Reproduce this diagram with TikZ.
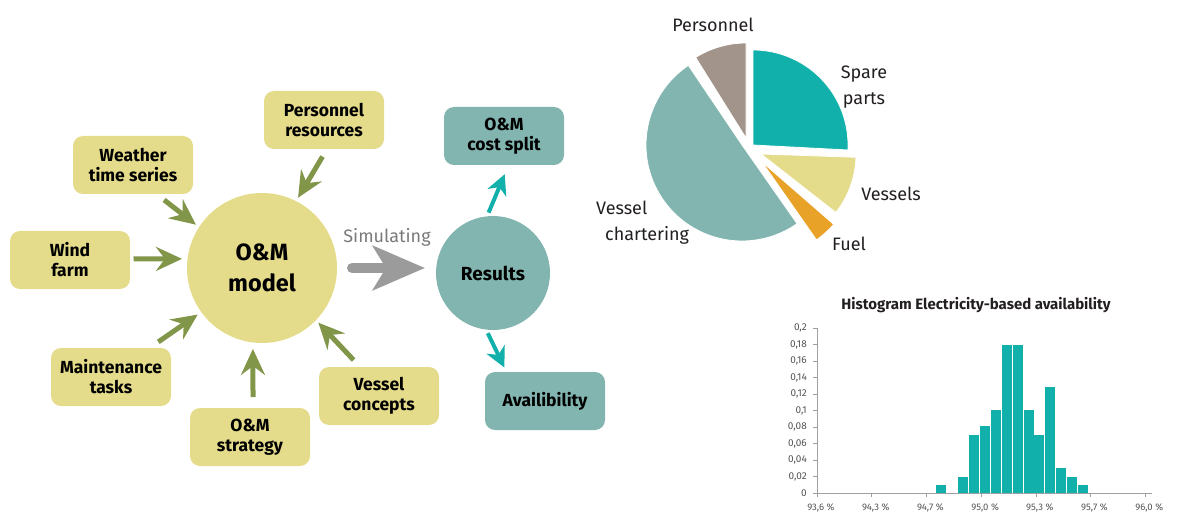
\documentclass[tikz,border=0pt]{standalone}
\usepackage{fontspec}
\setmainfont{Fira Sans}
\usetikzlibrary{arrows.meta,calc}
\definecolor{boxyellow}{HTML}{E4DC8A}
\definecolor{resteal}{HTML}{82B5B0}
\definecolor{brightteal}{HTML}{11B0AA}
\definecolor{arrowgreen}{HTML}{82964A}
\definecolor{simgrey}{HTML}{9B9B9B}
\definecolor{simtext}{HTML}{7A7A7A}
\definecolor{persgrey}{HTML}{A2948A}
\definecolor{fuelorange}{HTML}{E8A228}
\definecolor{labeldark}{HTML}{231F20}
\definecolor{axisgrey}{HTML}{A0A0A0}
\definecolor{ticktext}{HTML}{555555}
\begin{document}
\begin{tikzpicture}[x=1pt,y=1pt,
  inbox/.style={fill=boxyellow, rounded corners=10pt, minimum width=120pt, minimum height=58pt,
    align=center, inner sep=0pt, outer sep=0pt, font=\bfseries\fontsize{17.5}{20}\selectfont},
  outbox/.style={inbox, fill=resteal},
  bigcircle/.style={circle, inner sep=0pt, outer sep=0pt, align=center},
  garrow/.style={draw=arrowgreen, line width=5pt, -{Stealth[length=26pt, width=24pt, inset=9pt]}},
  tarrow/.style={draw=brightteal, line width=4pt, -{Stealth[length=20pt, width=20pt, inset=6pt]}},
  sarrow/.style={draw=simgrey, line width=10pt, line cap=round, -{Stealth[length=52pt, width=44pt, inset=13pt]}},
  pielabel/.style={font=\fontsize{18}{26}\selectfont, text=labeldark, inner sep=0pt},
  slice/.style={draw=white, line width=0.8pt},
  ytick/.style={font=\fontsize{10}{10}\selectfont, text=ticktext, anchor=east, inner sep=0pt},
  xtick/.style={font=\fontsize{9.5}{10}\selectfont, text=ticktext, inner sep=0pt}
]
\useasboundingbox (0,0) rectangle (1177,520);

% ---------- input boxes ----------
\node[inbox] (weather) at (133,355) {Weather\\time series};
\node[inbox] (personnel) at (324,400) {Personnel\\resources};
\node[inbox] (wind) at (70,260) {Wind\\farm};
\node[inbox] (maint) at (111,143) {Maintenance\\tasks};
\node[inbox] (strategy) at (250,83) {O\&M\\strategy};
\node[inbox] (vessel) at (379,124) {Vessel\\concepts};

\node[bigcircle, fill=boxyellow, minimum size=150pt, font=\bfseries\fontsize{23.5}{31}\selectfont] (model) at (262,252) {O\&M\\model};
\node[bigcircle, fill=resteal, minimum size=114pt, font=\bfseries\fontsize{19}{20}\selectfont] (results) at (493,247) {Results};

\node[outbox] (cost) at (504,384) {O\&M\\cost split};
\node[outbox] (avail) at (545,119) {Availibility};

% ---------- arrows ----------
\draw[garrow, shorten <=9.7pt, shorten >=4pt] (weather.-51.6) -- (model.147);
\draw[garrow, shorten <=8.8pt, shorten >=4pt] (personnel.-84.8) -- (model.63.7);
\draw[garrow, shorten <=3.5pt, shorten >=5.6pt] (wind.1.9) -- (model.173);
\draw[garrow, shorten <=10.7pt, shorten >=4.4pt] (maint.37.3) -- (model.216.3);
\draw[garrow, shorten <=11pt, shorten >=6.5pt] (strategy.84) -- (model.263.7);
\draw[garrow, shorten <=9.6pt, shorten >=3.5pt] (vessel.123.8) -- (model.-44.5);

\draw[sarrow, shorten <=15pt, shorten >=11pt] (model.east) -- (model.east -| results.west);
\node[font=\fontsize{18}{18}\selectfont, text=simtext] (simlabel) at (387,283) {Simulating};

\draw[tarrow, shorten <=4pt, shorten >=10pt] (results.96.6) -- (cost.-81.6);
\draw[tarrow, shorten <=4pt, shorten >=5pt] (results.263.4) -- (avail.143.6);

% ---------- pie chart ----------
\fill[brightteal, slice] (753,375) -- ++(-3:95) arc[start angle=-3, end angle=90, radius=95] -- cycle;
\fill[boxyellow, slice] (761,366) -- ++(-38:95) arc[start angle=-38, end angle=-2, radius=95] -- cycle;
\fill[fuelorange, slice] (762,358) -- ++(-55:95) arc[start angle=-55, end angle=-41, radius=95] -- cycle;
\fill[resteal, slice] (742,375) -- ++(124:96) arc[start angle=124, end angle=305, radius=96] -- cycle;
\fill[persgrey, slice] (746,382) -- ++(90:95) arc[start angle=90, end angle=122, radius=95] -- cycle;

\node[pielabel] (lpers) at (713,495) {Personnel};
\node[pielabel, align=center] (lspare) at (864,433) {Spare\\parts};
\node[pielabel] (lves) at (891,326) {Vessels};
\node[pielabel] (lfuel) at (849,276) {Fuel};
\node[pielabel, align=left, anchor=west] (lchart) at (596,297) {Vessel\\\hspace*{9pt}chartering};

% ---------- histogram ----------
\node[font=\bfseries\fontsize{15}{16}\selectfont, text=labeldark] (htitle) at (976,215) {Histogram Electricity-based availability};
\draw[axisgrey, line width=0.8pt] (817,192) -- (817,27) -- (1152,27);
\foreach \v/\t in {0/0, 0.02/{0,02}, 0.04/{0,04}, 0.06/{0,06}, 0.08/{0,08}, 0.1/{0,1}, 0.12/{0,12}, 0.14/{0,14}, 0.16/{0,16}, 0.18/{0,18}, 0.2/{0,2}}{
  \draw[axisgrey, line width=0.6pt] (813,{27+825*\v}) -- (817,{27+825*\v});
  \node[ytick] at (807,{27+825*\v}) {\t};
}
\foreach \k/\t in {0/{93,6 \%}, 1/{94,3 \%}, 2/{94,7 \%}, 3/{95,0 \%}, 4/{95,3 \%}, 5/{95,7 \%}, 6/{96,0 \%}}{
  \draw[axisgrey, line width=0.6pt] ({817+54.7*\k},27) -- ({817+54.7*\k},23);
  \node[xtick] at ({821+54.7*\k},12) {\t};
}
\foreach \i/\v in {-3/0.01, -1/0.019, 0/0.07, 1/0.081, 2/0.1, 3/0.18, 4/0.18, 5/0.1, 6/0.07, 7/0.129, 8/0.03, 9/0.019, 10/0.01}{
  \fill[brightteal] ({969+10.9*\i},27.4) rectangle ({969+10.9*\i+10},{27+825*\v});
}
\end{tikzpicture}
\end{document}
